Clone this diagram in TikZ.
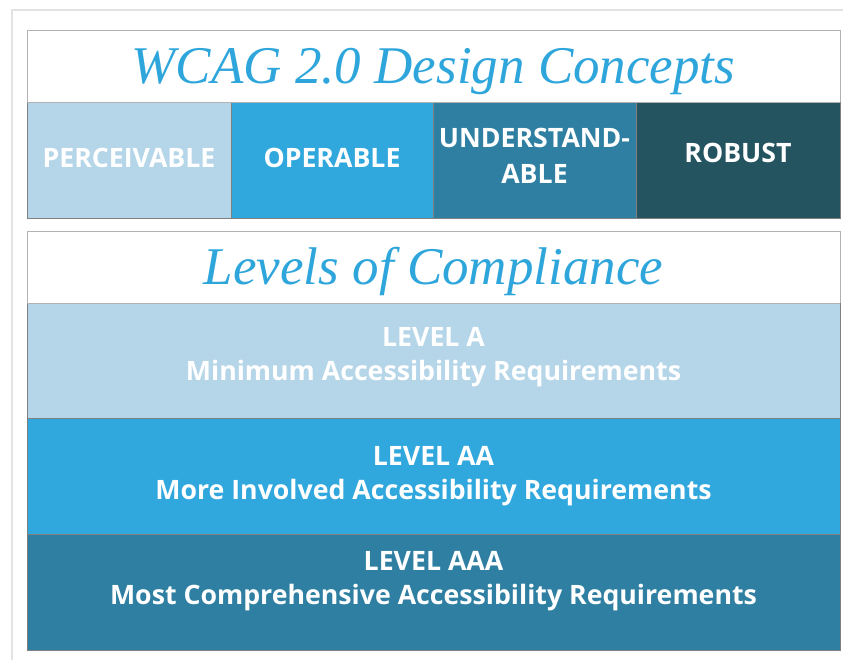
\documentclass[tikz,border=0pt]{standalone}
\usepackage{fontspec}
\setmainfont{Open Sans}
\newfontfamily\titlefont{Liberation Serif}
\usepackage{xcolor}
\definecolor{paleblue}{HTML}{B5D5E8}
\definecolor{brightblue}{HTML}{30A7DD}
\definecolor{midblue}{HTML}{2E7FA2}
\definecolor{darkteal}{HTML}{235460}
\definecolor{titleblue}{HTML}{2EA6DB}

\begin{document}
\begin{tikzpicture}[x=1pt,y=-1pt,every node/.style={inner sep=0pt,outer sep=0pt,align=center},
  cell/.style={draw=black!50,line width=0.8pt,anchor=north west},
  celltext/.style={text=white,font=\fontsize{26.7}{34}\selectfont\bfseries},
  titlebox/.style={draw=gray!60,line width=0.8pt,fill=white,anchor=north west,minimum width=813pt,minimum height=72pt,
    text height=35pt,text depth=0pt,text=titleblue,font=\titlefont\fontsize{53}{60}\selectfont\itshape}]
\useasboundingbox (0,0) rectangle (843,659);
\fill[white] (0,0) rectangle (843,659);
\draw[gray!22,line width=2.5pt] (12,670) -- (12,10) -- (850,10);

% design concepts
\node[titlebox] (concepts) at (27,30) {WCAG 2.0 Design Concepts};
\node[cell,fill=paleblue,minimum width=204pt,minimum height=116pt] (perceivable) at (27,102) {};
\node[cell,fill=brightblue,minimum width=202pt,minimum height=116pt] (operable) at (231,102) {};
\node[cell,fill=midblue,minimum width=203pt,minimum height=116pt] (understandable) at (433,102) {};
\node[cell,fill=darkteal,minimum width=204pt,minimum height=116pt] (robust) at (636,102) {};
\draw[gray!60,line width=0.8pt] (concepts.south west) -- (concepts.south east);
\node[celltext] (perceivableText) at ([yshift=2.5pt]perceivable.center) {PERCEIVABLE};
\node[celltext] (operableText) at ([yshift=2.5pt]operable.center) {OPERABLE};
\node[celltext,font=\fontsize{26.7}{36}\selectfont\bfseries] (understandableText) at ([yshift=4pt]understandable.center) {UNDERSTAND-\\ABLE};
\node[celltext] (robustText) at ([yshift=7pt]robust.center) {ROBUST};

% levels
\node[titlebox] (levels) at (27,231) {Levels of Compliance};
\node[cell,fill=paleblue,minimum width=813pt,minimum height=115pt] (levelA) at (27,303) {};
\node[cell,fill=brightblue,minimum width=813pt,minimum height=116pt] (levelAA) at (27,418) {};
\node[cell,fill=midblue,minimum width=813pt,minimum height=116pt] (levelAAA) at (27,534) {};
\draw[gray!60,line width=0.8pt] (levels.south west) -- (levels.south east);
\node[celltext] (levelAText) at ([yshift=3pt]levelA.center) {LEVEL A\\Minimum Accessibility Requirements};
\node[celltext] (levelAAText) at (levelAA.center) {LEVEL AA\\More Involved Accessibility Requirements};
\node[celltext] (levelAAAText) at ([yshift=11pt]levelAAA.center) {LEVEL AAA\\Most Comprehensive Accessibility Requirements};
\end{tikzpicture}
\end{document}
